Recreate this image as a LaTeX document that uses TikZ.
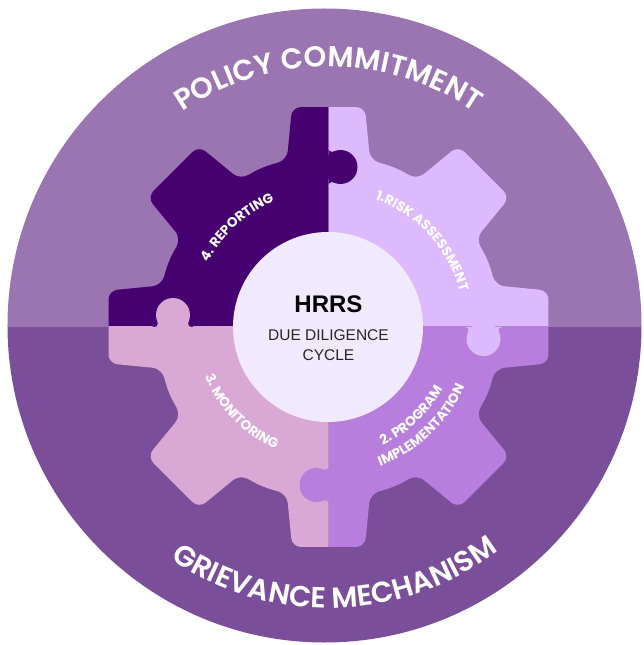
\documentclass[tikz,border=0pt]{standalone}
\usepackage{fontspec}
\newfontfamily\pop{Poppins SemiBold}
\newfontfamily\popr{Poppins}
\newfontfamily\lib{Liberation Sans}
\usetikzlibrary{decorations.text}
\definecolor{bgtop}{HTML}{9B74B2}
\definecolor{bgbot}{HTML}{7B4E9A}
\definecolor{cdark}{HTML}{470070}
\definecolor{clight}{HTML}{DCBAFD}
\definecolor{cmed}{HTML}{B77EDD}
\definecolor{cpink}{HTML}{D9A8D4}
\definecolor{ccenter}{HTML}{F1EAFE}
\def\outerfmt{\pop\fontsize{29}{29}\selectfont\color{white}}
\def\innerfmt{\popr\bfseries\fontsize{13.5}{13.5}\selectfont\color{white}}
\def\gearpath{(-22.5:173) \foreach \a in {0,45,...,270}{ -- ({\a-14}:172) -- ({\a-9.4}:223) -- ({\a+9.4}:223) -- ({\a+14}:172) -- ({\a+22.5}:173)} -- (301:172) -- (305.6:223) -- (324.4:223) -- (329:172) -- cycle}
\newcommand\puzzleknob[4]{%
\begin{scope}[shift={#1}, rotate=#2]
\fill[#3] (12,0) circle[radius=17];
\fill[#3] (0,0) -- (0,18.65) -- (3.5,18.65) -- (4.95,15.47) -- (12,0) -- (4.95,-15.47) -- (3.5,-18.65) -- (0,-18.65) -- cycle;
\fill[#4] (3.5,18.65) circle[radius=3.5] (3.5,-18.65) circle[radius=3.5];
\end{scope}}
\tikzset{
  gearfill/.style={rounded corners=9pt},
  arctext/.style={decorate, decoration={text along path, text align=center, text={#1}}}
}
\begin{document}
\begin{tikzpicture}[x=1pt,y=1pt]
\useasboundingbox (-328.5,-318) rectangle (314.5,327);
% background disc
\begin{scope}
\clip (-4,1.5) circle[radius=317];
\fill[bgtop] (-340,0) rectangle (340,340);
\fill[bgbot] (-340,0) rectangle (340,-340);
\end{scope}
% gear quadrants
\begin{scope}
\clip (0,0) rectangle (-240,240);
\fill[cdark, gearfill] \gearpath;
\end{scope}
\begin{scope}
\clip (0,0) rectangle (240,240);
\fill[clight, gearfill] \gearpath;
\end{scope}
\begin{scope}
\clip (0,0) rectangle (240,-240);
\fill[cmed, gearfill] \gearpath;
\end{scope}
\begin{scope}
\clip (0,0) rectangle (-240,-240);
\fill[cpink, gearfill] \gearpath;
\end{scope}
% puzzle knobs
\puzzleknob{(0,160)}{0}{cdark}{clight}
\puzzleknob{(155,0)}{-90}{clight}{cmed}
\puzzleknob{(0,-158)}{180}{cmed}{cpink}
\puzzleknob{(-155.5,0)}{90}{cpink}{cdark}
% centre disc
\fill[ccenter] (-0.5,0) circle[radius=95];
\node[anchor=base, inner sep=0pt, font=\lib\bfseries\fontsize{24}{24}\selectfont] (hrrs) at (0,14) {HRRS};
\node[anchor=base, inner sep=0pt, text=black!85, font=\lib\fontsize{15.5}{16}\selectfont] (due) at (0,-13) {DUE DILIGENCE};
\node[anchor=base, inner sep=0pt, text=black!85, font=\lib\fontsize{15.5}{16}\selectfont] (cyc) at (0,-33) {CYCLE};
% outer curved labels
\path[arctext={|\outerfmt|POLICY COMMITMENT}] (160:260) arc[start angle=160, end angle=20, radius=260];
\path[arctext={|\outerfmt|GRIEVANCE MECHANISM}] (201.5:281) arc[start angle=201.5, end angle=341.5, radius=281];
% inner curved labels
\path[arctext={|\innerfmt|4. REPORTING}] (172.5:137) arc[start angle=172.5, end angle=92.5, radius=137];
\path[arctext={|\innerfmt|1.RISK ASSESSMENT}] (87.5:136) arc[start angle=87.5, end angle=-2.5, radius=136];
\path[arctext={|\innerfmt|2. PROGRAM}] (-87:130) arc[start angle=-87, end angle=-7, radius=130];
\path[arctext={|\innerfmt|IMPLEMENTATION}] (-91.7:148.5) arc[start angle=-91.7, end angle=-1.7, radius=148.5];
\path[arctext={|\innerfmt|3. MONITORING}] (184.2:133) arc[start angle=184.2, end angle=264.2, radius=133];
\end{tikzpicture}
\end{document}
